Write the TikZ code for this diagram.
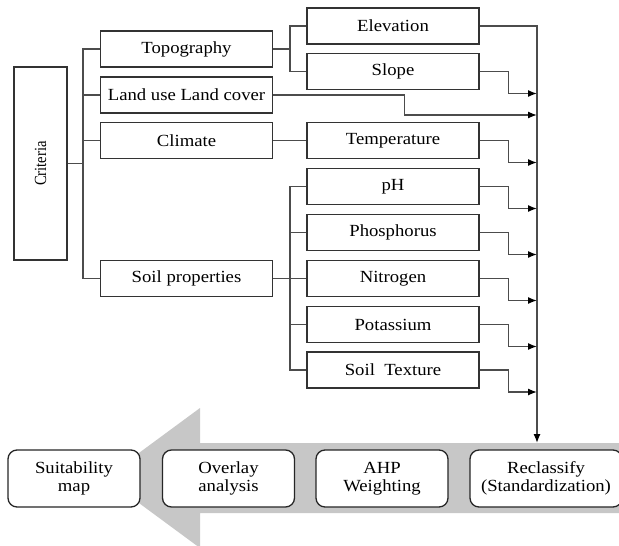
\documentclass[tikz,border=0pt]{standalone}
\usepackage{fontspec}
\setmainfont[FakeStretch=1.1]{Liberation Serif}
\usetikzlibrary{arrows.meta}
\usetikzlibrary{calc}

\begin{document}
\begin{tikzpicture}[x=1pt,y=-1pt,font=\fontsize{17}{17.5}\selectfont,
  box/.style={draw=black!80, line width=1.3pt, minimum width=172pt, minimum height=36pt, inner sep=0pt},
  proc/.style={draw=black!85, line width=1.3pt, rounded corners=9pt, fill=white, minimum width=132pt, minimum height=57pt, align=center, inner sep=0pt},
  wire/.style={draw=black!70, line width=1.3pt},
  feed/.style={wire, -{Latex[length=9pt,width=7pt,color=black]}},
  band/.style={fill=black!22}]
\useasboundingbox (0,0) rectangle (619,546);
\clip (0,0) rectangle (619,546);
\coordinate (bl) at (83,0);
\coordinate (br) at (290,0);
\coordinate (ml) at (537,0);
% the gray arrow
\fill[band] (619,443) coordinate (bandtop) -- (200,443) -- (200,408) -- (105,478)
  -- (200,548) -- (200,513) -- (619,513) -- cycle;
\node[draw=black!80, line width=1.3pt, minimum width=53pt, minimum height=193pt] (crit) at (40.5,163.5) {};
\node[rotate=90] (critlab) at (crit.center) {\scalebox{0.78}[1]{Criteria}};
%     criteria
\node[box] (topo) at (186.5,49) {Topography};
\node[box] (land) at (186.5,95) {Land use Land cover};
\node[box] (clim) at (186.5,140.5) {Climate};
\node[box] (soil) at (186.5,278.5) {Soil properties};
%     sub criteria
\node[box] (elev) at (393,26) {Elevation};
\node[box] (slope) at (393,71.5) {Slope};
\node[box] (temp) at (393,140.5) {Temperature};
\node[box] (ph) at (393,186.5) {pH};
\node[box] (phos) at (393,232.5) {Phosphorus};
\node[box] (nitro) at (393,278.5) {Nitrogen};
\node[box] (pota) at (393,324.5) {Potassium};
\node[box] (text) at (393,370) {Soil\ \ Texture};
%     steps
\node[proc] (suit) at (74,478.5) {Suitability\\map};
\node[proc] (over) at (228.5,478.5) {Overlay\\analysis};
\node[proc] (ahp) at (382,478.5) {AHP\\Weighting};
\node[proc, minimum width=152pt] (recl) at (546,478.5) {Reclassify\\(Standardization)};
% left tree
\draw[wire] (crit.east) -- (crit.east -| bl);
\draw[wire] (topo.west) -- (topo.west -| bl) -- (soil.west -| bl) -- (soil.west);
\draw[wire] (land.west) -- (land.west -| bl);
\draw[wire] (clim.west) -- (clim.west -| bl);
% right tree
\draw[wire] (topo.east) -- (topo.east -| br);
\draw[wire] (elev.west) -- (elev.west -| br) -- (slope.west -| br) -- (slope.west);
\draw[wire] (clim.east) -- (temp.west);
\draw[wire] (soil.east) -- (soil.east -| br);
\draw[wire] (ph.west) -- (ph.west -| br) -- (text.west -| br) -- (text.west);
\foreach \n in {phos,nitro,pota}
  \draw[wire] (\n.west) -- (\n.west -| br);
% into the main line
\draw[feed] (elev.east) -- (elev.east -| ml) -- (ml |- bandtop);
\draw[feed] (land.east) -| ++(131,20) coordinate (k) -- (k -| ml);
\foreach \n in {slope,temp,ph,phos,nitro,pota,text}
  \draw[feed] (\n.east) -| ++(29,22) coordinate (k) -- (k -| ml);
\end{tikzpicture}
\end{document}
